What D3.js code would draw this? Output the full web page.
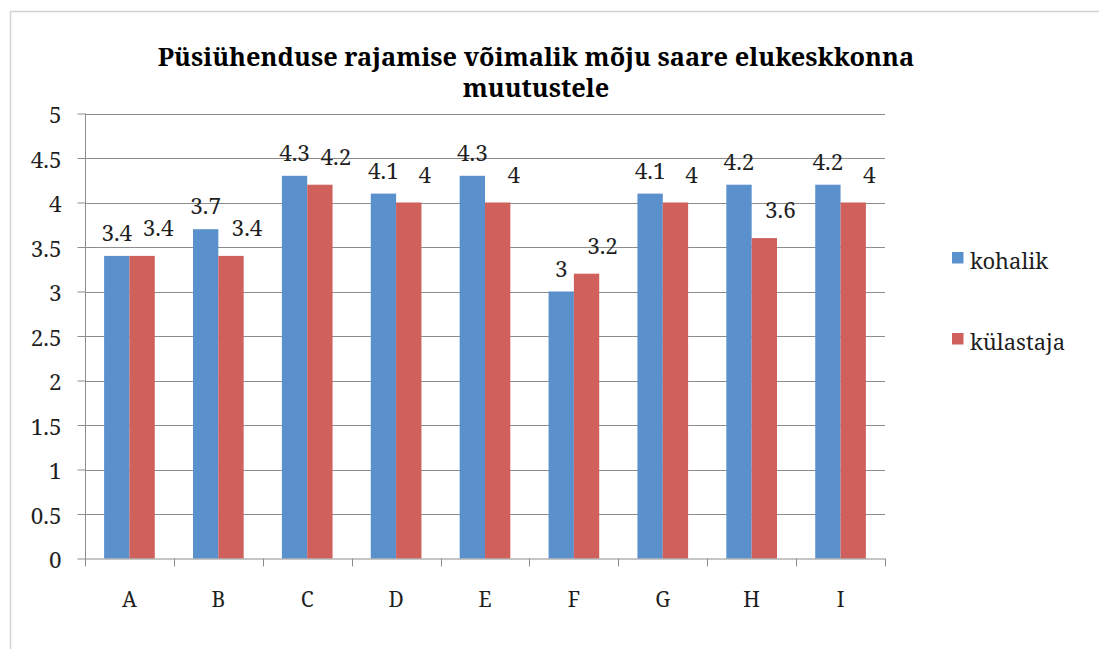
<!DOCTYPE html>
<html>
<head>
<meta charset="utf-8">
<script src="https://cdn.jsdelivr.net/npm/d3@7"></script>
<style>
  html, body { margin: 0; padding: 0; background: #fff; }
  svg { display: block; }
  text { font-family: "Noto Serif", "DejaVu Serif", serif; }
</style>
</head>
<body>
<svg id="chart" width="1099" height="649"></svg>
<script>
const categories = ["A", "B", "C", "D", "E", "F", "G", "H", "I"];
const seriesNames = ["kohalik", "külastaja"];
const kohalik   = [3.4, 3.7, 4.3, 4.1, 4.3, 3.0, 4.1, 4.2, 4.2];
const kulastaja = [3.4, 3.4, 4.2, 4.0, 4.0, 3.2, 4.0, 3.6, 4.0];
const yTicks = [0, 0.5, 1, 1.5, 2, 2.5, 3, 3.5, 4, 4.5, 5];
const titleLines = ["Püsiühenduse rajamise võimalik mõju saare elukeskkonna", "muutustele"];

const colors = ["#5a91cd", "#cf605b"];
const values = [kohalik, kulastaja];
const FONT = "Noto Serif";
const TXT = "#1f1f1f";

const svg = d3.select("#chart");

// outer frame
svg.append("rect")
  .attr("x", 10.5).attr("y", 11.5)
  .attr("width", 1200).attr("height", 800)
  .attr("fill", "none").attr("stroke", "#d4d4d4").attr("stroke-width", 1.5);

const plot = { left: 85, right: 885, top: 113.5, bottom: 558.5 };

const x0 = d3.scaleBand().domain(categories).range([plot.left, plot.right]).padding(0);
const bw = x0.bandwidth();
const pad = bw * 0.215;
const x1 = d3.scaleBand().domain([0, 1]).range([pad, bw - pad]).padding(0);
const y = d3.scaleLinear().domain([0, 5]).range([plot.bottom, plot.top]);

// gridlines
svg.append("g").selectAll("line").data(yTicks.filter(t => t > 0)).join("line")
  .attr("x1", plot.left).attr("x2", plot.right)
  .attr("y1", d => Math.round(y(d)) + 0.5).attr("y2", d => Math.round(y(d)) + 0.5)
  .attr("stroke", "#8c8c8c").attr("stroke-width", 1);

// bars
values.forEach((vals, s) => {
  svg.append("g").selectAll("rect").data(categories).join("rect")
    .attr("x", (c) => x0(c) + x1(s))
    .attr("y", (c, i) => y(vals[i]))
    .attr("width", x1.bandwidth())
    .attr("height", (c, i) => y(0) - y(vals[i]))
    .attr("fill", colors[s]);
});

// y axis
const yAxis = d3.axisLeft(y).tickValues(yTicks).tickSize(8).tickFormat(d3.format("~g"));
const gy = svg.append("g").attr("transform", `translate(${plot.left + 0.5},0)`).call(yAxis);
gy.attr("font-family", null);
gy.select(".domain").attr("stroke", "#8c8c8c").attr("d", `M0,${plot.top}V${plot.bottom}`);
gy.selectAll(".tick line").attr("stroke", "#8c8c8c");
gy.selectAll(".tick text")
  .attr("x", -24).attr("dy", "0.42em")
  .style("font-family", FONT).style("font-size", "22.5px").attr("fill", TXT);

// x axis
const xAxis = d3.axisBottom(x0).tickSize(0).tickFormat(d => d);
const gx = svg.append("g").attr("transform", `translate(0,${plot.bottom})`).call(xAxis);
gx.attr("font-family", null);
gx.select(".domain").attr("stroke", "#8c8c8c").attr("d", `M${plot.left},0.5H${plot.right}`);
gx.selectAll(".tick text")
  .attr("y", 48).attr("dy", 0)
  .style("font-family", FONT).style("font-size", "21px").attr("fill", TXT);
// category boundary tick marks
const bounds = categories.map(c => x0(c)).concat([plot.right]);
svg.append("g").selectAll("line").data(bounds).join("line")
  .attr("x1", d => Math.round(d) + 0.5).attr("x2", d => Math.round(d) + 0.5)
  .attr("y1", plot.bottom).attr("y2", plot.bottom + 8)
  .attr("stroke", "#8c8c8c");

// data labels
const labelOffsets = [{ dx: 0, dy: -15 }, { dx: 16, dy: -20 }];
values.forEach((vals, s) => {
  svg.append("g").selectAll("text").data(categories).join("text")
    .attr("x", (c) => x0(c) + x1(s) + x1.bandwidth() / 2 + labelOffsets[s].dx)
    .attr("y", (c, i) => y(vals[i]) + labelOffsets[s].dy)
    .attr("text-anchor", "middle")
    .style("font-family", FONT).style("font-size", "22.5px").attr("fill", TXT)
    .text((c, i) => d3.format("~g")(vals[i]));
});

// title
const tcx = 536;
const t1 = svg.append("text").attr("x", tcx).attr("y", 66)
  .attr("text-anchor", "middle")
  .style("font-family", FONT).style("font-weight", "bold").style("font-size", "22px").attr("fill", "#000")
  .text(titleLines[0]);
const w = t1.node().getComputedTextLength();
const fs = 22 * 757 / w;
t1.style("font-size", fs + "px");
svg.append("text").attr("x", tcx).attr("y", 97)
  .attr("text-anchor", "middle")
  .style("font-family", FONT).style("font-weight", "bold").style("font-size", fs + "px").attr("fill", "#000")
  .text(titleLines[1]);

// legend
const legend = svg.append("g");
seriesNames.forEach((name, s) => {
  const ly = 252 + s * 81;
  legend.append("rect").attr("x", 952).attr("y", ly).attr("width", 11.5).attr("height", 11.5).attr("fill", colors[s]);
  legend.append("text").attr("x", 970).attr("y", ly + 16.5)
    .style("font-family", FONT).style("font-size", "22px").attr("fill", TXT)
    .text(name);
});
</script>
</body>
</html>
